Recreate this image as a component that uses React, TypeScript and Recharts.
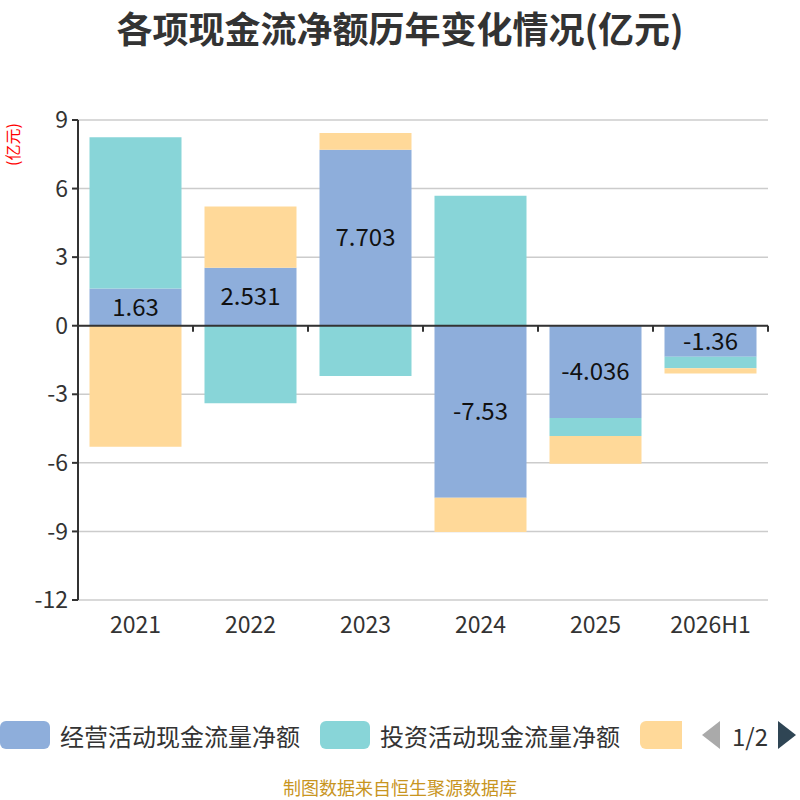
import React from 'react';
import { BarChart, Bar, XAxis, YAxis, CartesianGrid, ReferenceLine, LabelList } from 'recharts';

const categories = ['2021', '2022', '2023', '2024', '2025', '2026H1'];
const operating = [1.63, 2.531, 7.703, -7.53, -4.036, -1.36];
const investing = [6.61, -3.39, -2.2, 5.69, -0.79, -0.5];
const financing = [-5.3, 2.69, 0.73, -1.5, -1.21, -0.23];
const yTicks = [-12, -9, -6, -3, 0, 3, 6, 9];
const seriesNames = ['经营活动现金流量净额', '投资活动现金流量净额', '筹资活动现金流量净额'];
const colors = ['#8EAEDB', '#88D5D8', '#FFD999'];

const data = categories.map((c, i) => ({
  name: c,
  op: operating[i],
  inv: investing[i],
  fin: financing[i],
}));

const FONT = '"Noto Sans CJK SC", "Noto Sans", sans-serif';

const ZeroLine = (props: any) => {
  const { x1, x2, y1 } = props;
  const n = categories.length;
  const step = (x2 - x1) / n;
  const ticks = [];
  for (let i = 1; i <= n; i++) {
    const x = x1 + step * i;
    ticks.push(<line key={i} x1={x} x2={x} y1={y1} y2={y1 + 6} stroke="#333" strokeWidth={2} />);
  }
  return (
    <g>
      <line x1={x1} x2={x2} y1={y1} y2={y1} stroke="#333" strokeWidth={2} />
      {ticks}
    </g>
  );
};

export default function App() {
  return (
    <div style={{ position: 'absolute', left: 0, top: 0, width: 800, height: 800, background: '#fff', fontFamily: FONT }}>
      <div style={{ position: 'absolute', left: 0, top: 0, width: 800, textAlign: 'center', fontSize: 36, lineHeight: '54px', fontWeight: 'bold', color: '#333' }}>
        各项现金流净额历年变化情况(亿元)
      </div>
      <BarChart
        width={800}
        height={800}
        data={data}
        stackOffset="sign"
        barCategoryGap="10%"
        margin={{ top: 120, right: 32, bottom: 160, left: 0 }}
      >
        <CartesianGrid vertical={false} stroke="#ccc" strokeWidth={1.5} />
        <XAxis
          dataKey="name"
          axisLine={false}
          tickLine={false}
          height={40}
          tickMargin={11}
          tick={{ fontSize: 23, fill: '#333', fontFamily: FONT }}
        />
        <YAxis
          width={78}
          domain={[-12, 9]}
          ticks={yTicks}
          interval={0}
          axisLine={{ stroke: '#333', strokeWidth: 2 }}
          tickLine={{ stroke: '#333', strokeWidth: 2 }}
          tickSize={6}
          tickMargin={4}
          tick={{ fontSize: 23, fill: '#333', fontFamily: FONT }}
          label={{ value: '(亿元)', angle: -90, position: 'insideTopLeft', offset: 0, dx: 8, dy: 46, fill: '#ff0000', fontSize: 16 }}
        />
        <Bar dataKey="op" stackId="a" fill={colors[0]} isAnimationActive={false} name={seriesNames[0]}>
          <LabelList dataKey="op" position="center" fill="#111" fontSize={24} fontFamily={FONT} />
        </Bar>
        <Bar dataKey="inv" stackId="a" fill={colors[1]} isAnimationActive={false} name={seriesNames[1]} />
        <Bar dataKey="fin" stackId="a" fill={colors[2]} isAnimationActive={false} name={seriesNames[2]} />
        <ReferenceLine y={0} shape={ZeroLine} />
      </BarChart>
      <div style={{ position: 'absolute', top: 720, left: 0, height: 30, display: 'flex', alignItems: 'center', fontSize: 24, color: '#333', whiteSpace: 'nowrap' }}>
        <div style={{ width: 50, height: 28, borderRadius: 6, background: colors[0], marginRight: 10 }} />
        <span style={{ marginRight: 20 }}>{seriesNames[0]}</span>
        <div style={{ width: 50, height: 28, borderRadius: 6, background: colors[1], marginRight: 10 }} />
        <span style={{ marginRight: 20 }}>{seriesNames[1]}</span>
        <div style={{ width: 42, height: 28, borderRadius: '6px 0 0 6px', background: colors[2], marginRight: 20 }} />
        <svg width={18} height={30} style={{ marginRight: 12 }}>
          <polygon points="18,1 18,29 0,15" fill="#aaa" />
        </svg>
        <span style={{ marginRight: 10 }}>1/2</span>
        <svg width={18} height={30}>
          <polygon points="0,1 0,29 18,15" fill="#2f4554" />
        </svg>
      </div>
      <div style={{ position: 'absolute', top: 774, left: 0, width: 800, textAlign: 'center', fontSize: 18, lineHeight: '26px', color: '#c8951f' }}>
        制图数据来自恒生聚源数据库
      </div>
    </div>
  );
}
